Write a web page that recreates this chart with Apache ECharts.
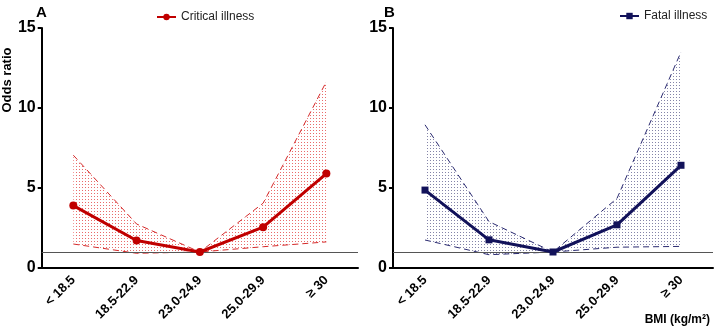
<!DOCTYPE html>
<html>
<head>
<meta charset="utf-8">
<script src="https://cdn.jsdelivr.net/npm/echarts@6/dist/echarts.min.js"></script>
<style>
html, body { margin: 0; padding: 0; background: #fff; }
#chart { width: 718px; height: 326px; }
</style>
</head>
<body>
<div id="chart"></div>
<script>
// BMI groups
var categories = ['< 18.5', '18.5-22.9', '23.0-24.9', '25.0-29.9', '\u2265 30'];
var yTicks = [0, 5, 10, 15];

// A: critical illness
var criticalOR = [3.9, 1.72, 1.0, 2.55, 5.9];
var criticalUpper = [7.05, 2.75, 1.0, 4.05, 11.65];
var criticalLower = [1.5, 0.92, 1.0, 1.33, 1.63];

// B: fatal illness
var fatalOR = [4.87, 1.76, 1.0, 2.7, 6.42];
var fatalUpper = [8.95, 2.9, 1.0, 4.35, 13.5];
var fatalLower = [1.75, 0.83, 1.0, 1.3, 1.35];

var RED = '#c00000';
var NAVY = '#12125a';

// dotted fill for the confidence band
function dotPattern(color) {
    var c = document.createElement('canvas');
    c.width = 3;
    c.height = 3;
    var ctx = c.getContext('2d');
    ctx.fillStyle = color;
    ctx.fillRect(1, 1, 1, 1);
    return c;
}

function diff(up, low) {
    return up.map(function(v, i) { return +(v - low[i]).toFixed(3); });
}

function bandSeries(idx, upper, lower, dotColor, dashColor) {
    var stack = 'ci' + idx;
    return [
        {
            type: 'line', xAxisIndex: idx, yAxisIndex: idx, stack: stack,
            data: lower, symbol: 'none', silent: true,
            lineStyle: { opacity: 0 }
        },
        {
            type: 'line', xAxisIndex: idx, yAxisIndex: idx, stack: stack,
            data: diff(upper, lower), symbol: 'none', silent: true,
            lineStyle: { opacity: 0 },
            areaStyle: { color: { image: dotPattern(dotColor), repeat: 'repeat' }, opacity: 1 }
        },
        {
            type: 'line', xAxisIndex: idx, yAxisIndex: idx,
            data: upper, symbol: 'none', silent: true,
            lineStyle: { color: dashColor, width: 1, type: [6, 4] }
        },
        {
            type: 'line', xAxisIndex: idx, yAxisIndex: idx,
            data: lower, symbol: 'none', silent: true,
            lineStyle: { color: dashColor, width: 1, type: [6, 4] }
        }
    ];
}

function xAxisCfg(idx) {
    return {
        type: 'category', gridIndex: idx, data: categories, boundaryGap: true,
        axisLine: { lineStyle: { color: '#000', width: 2 } },
        axisTick: { alignWithLabel: true, length: 5, lineStyle: { color: '#000', width: 1.5 } },
        axisLabel: {
            rotate: 45, color: '#000', fontWeight: 'bold', fontSize: 13,
            fontFamily: 'Liberation Sans', margin: 10
        }
    };
}

function yAxisCfg(idx) {
    return {
        type: 'value', gridIndex: idx, min: 0, max: 15, interval: 5,
        splitLine: { show: false },
        axisLine: { show: true, lineStyle: { color: '#000', width: 2 } },
        axisTick: { show: true, length: 4, lineStyle: { color: '#000', width: 2 } },
        axisLabel: {
            color: '#000', fontWeight: 'bold', fontSize: 16, fontFamily: 'Liberation Sans',
            margin: 6,
            formatter: function(v) { return yTicks.indexOf(v) >= 0 ? String(v) : ''; }
        },
        name: idx === 0 ? 'Odds ratio' : '',
        nameLocation: 'middle', nameRotate: 90, nameGap: 27,
        nameTextStyle: { color: '#000', fontWeight: 'bold', fontSize: 13, fontFamily: 'Liberation Sans',
            padding: [0, 0, 0, 136] }
    };
}

var refLine = {
    silent: true, symbol: 'none', label: { show: false },
    lineStyle: { color: '#555', width: 1, type: 'solid' },
    data: [{ yAxis: 1 }]
};

var chart = echarts.init(document.getElementById('chart'));
chart.setOption({
    animation: false,
    textStyle: { fontFamily: 'Liberation Sans' },
    title: [
        { text: 'A', left: 31, top: 0, textStyle: { fontSize: 15, fontWeight: 'bold', color: '#000' } },
        { text: 'B', left: 379, top: 0, textStyle: { fontSize: 15, fontWeight: 'bold', color: '#000' } },
        { text: 'BMI (kg/m\u00b2)', right: 3, top: 309, textStyle: { fontSize: 12, fontWeight: 'bold', color: '#000' } }
    ],
    legend: [
        {
            data: ['Critical illness'], left: 151, top: 6, itemWidth: 19, itemHeight: 8, itemGap: 6,
            textStyle: { fontSize: 12, color: '#222' }
        },
        {
            data: ['Fatal illness'], left: 614, top: 5, itemWidth: 19, itemHeight: 8,
            textStyle: { fontSize: 12, color: '#222' }
        }
    ],
    grid: [
        { left: 40, right: 360, top: 28, bottom: 58 },
        { left: 393, right: 5, top: 28, bottom: 58 }
    ],
    xAxis: [xAxisCfg(0), xAxisCfg(1)],
    yAxis: [yAxisCfg(0), yAxisCfg(1)],
    series: [].concat(
        bandSeries(0, criticalUpper, criticalLower, 'rgba(228,70,70,0.8)', '#d42a2a'),
        bandSeries(1, fatalUpper, fatalLower, 'rgba(50,50,110,0.6)', '#2a2a70'),
        [
            {
                name: 'Critical illness', type: 'line', xAxisIndex: 0, yAxisIndex: 0,
                data: criticalOR, symbol: 'circle', symbolSize: 8,
                lineStyle: { color: RED, width: 3 }, itemStyle: { color: RED },
                markLine: refLine, z: 5
            },
            {
                name: 'Fatal illness', type: 'line', xAxisIndex: 1, yAxisIndex: 1,
                data: fatalOR, symbol: 'rect', symbolSize: 7,
                lineStyle: { color: NAVY, width: 3 }, itemStyle: { color: NAVY },
                markLine: refLine, z: 5
            }
        ]
    )
});
</script>
</body>
</html>
